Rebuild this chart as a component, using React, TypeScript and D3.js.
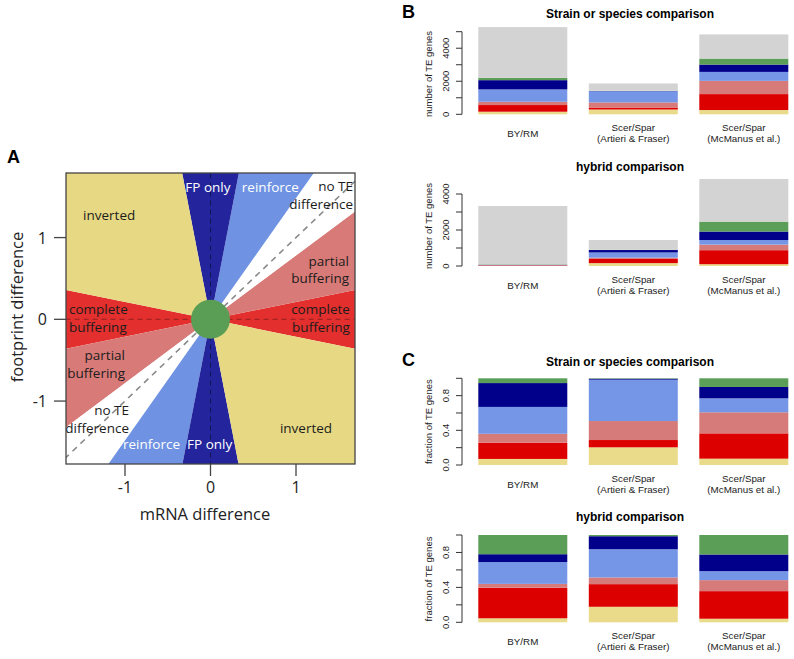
import React from "react";
import * as d3 from "d3";

// ---------- Panel A data ----------
const regionNames = ["complete buffering", "partial buffering", "no TE difference", "reinforce", "FP only", "inverted"];
const regionFromDeg = [-12, 12, 38, 56, 79.5, 100.5];
const regionToDeg = [12, 38, 56, 79.5, 100.5, 168];
const axisTicksA = [-1, 0, 1];
// label anchors in data units (mRNA, footprint)
const labelTexts = [
  ["inverted"], ["FP only"], ["reinforce"], ["no TE", "difference"], ["partial", "buffering"],
  ["complete", "buffering"], ["complete", "buffering"], ["partial", "buffering"], ["no TE", "difference"],
  ["reinforce"], ["FP only"], ["inverted"],
];
const labelX = [-1.49, -0.03, 0.7, 1.667, 1.62, 1.63, -1.655, -1.0, -0.953, -0.69, -0.01, 1.117];
const labelY = [1.28, 1.62, 1.62, 1.63, 0.714, 0.122, 0.122, -0.44, -1.11, -1.52, -1.53, -1.334];

// ---------- Panel B / C data ----------
const comparisons = ["BY/RM", "Scer/Spar\n(Artieri & Fraser)", "Scer/Spar\n(McManus et al.)"];
const categories = ["inverted", "complete buffering", "partial buffering", "reinforce", "FP only", "no difference", "no TE change"];
const strainCounts = [
  [157, 403, 200, 746, 560, 139, 3072],
  [290, 118, 310, 680, 16, 6, 447],
  [259, 964, 801, 542, 446, 361, 1464],
];
const hybridCounts = [
  [4, 32, 4, 22, 8, 20, 3243],
  [160, 233, 69, 291, 134, 13, 544],
  [101, 778, 311, 253, 471, 549, 2370],
];
const strainFractions = [
  [0.07, 0.187, 0.103, 0.31, 0.275, 0.055],
  [0.204, 0.084, 0.219, 0.477, 0.011, 0.005],
  [0.073, 0.292, 0.243, 0.161, 0.131, 0.1],
];
const hybridFractions = [
  [0.046, 0.35, 0.044, 0.25, 0.09, 0.22],
  [0.178, 0.259, 0.077, 0.323, 0.149, 0.014],
  [0.041, 0.316, 0.126, 0.103, 0.191, 0.223],
];
const countTicksStrain = [0, 1000, 2000, 3000, 4000, 5000];
const countTicksHybrid = [0, 1000, 2000, 3000, 4000];
const fractionTicks = [0, 0.2, 0.4, 0.6, 0.8, 1.0];

const regionColors = ["#e3302e", "#d87b78", "#ffffff", "#6f93e2", "#24259c", "#e7d983"];
const barColors = ["#e9db8a", "#dd0000", "#d67b79", "#7596e6", "#00008b", "#5b9e57", "#d3d3d3"];

const SANS = "'Liberation Sans', Arial, Helvetica, sans-serif";
const HUM = "'Open Sans', 'Noto Sans', sans-serif";

function PanelA() {
  const x = d3.scaleLinear().domain([-1.69, 1.69]).range([66, 355]);
  const y = d3.scaleLinear().domain([-1.77, 1.79]).range([464, 173]);
  const R = 10;
  const rad = (d: number) => (d * Math.PI) / 180;
  const sectorPath = (a0: number, a1: number) => {
    const pts: [number, number][] = [[x(0), y(0)]];
    const n = 8;
    for (let i = 0; i <= n; i++) {
      const a = rad(a0 + ((a1 - a0) * i) / n);
      pts.push([x(R * Math.cos(a)), y(R * Math.sin(a))]);
    }
    return d3.line()(pts) + "Z";
  };
  const white = (i: number) => i === 1 || i === 2 || i === 9 || i === 10;
  return (
    <g>
      <defs>
        <clipPath id="boxA">
          <rect x={66} y={173} width={289} height={291} />
        </clipPath>
      </defs>
      <g clipPath="url(#boxA)">
        {regionNames.map((nm, i) => (
          <g key={nm}>
            <path d={sectorPath(regionFromDeg[i], regionToDeg[i])} fill={regionColors[i]} />
            <path d={sectorPath(regionFromDeg[i] + 180, regionToDeg[i] + 180)} fill={regionColors[i]} />
          </g>
        ))}
        <line x1={x(-1.8)} y1={y(-1.8)} x2={x(1.8)} y2={y(1.8)} stroke="#8a8a8a" strokeWidth={1.6} strokeDasharray="6,5" />
        <line x1={x(-1.8)} y1={y(0)} x2={x(1.8)} y2={y(0)} stroke="#000" strokeOpacity={0.35} strokeWidth={1.1} strokeDasharray="5,4" />
        <line x1={x(0)} y1={y(-1.8)} x2={x(0)} y2={y(1.8)} stroke="#000" strokeOpacity={0.45} strokeWidth={1.1} strokeDasharray="5,4" />
        <circle cx={x(0)} cy={y(0)} r={19.5} fill="#5a9e55" />
        {labelTexts.map((lines, i) => {
          const anchor = i === 0 || i === 6 ? "start" : i === 3 || i === 4 || i === 5 || i === 7 || i === 8 ? "end" : "middle";
          return (
            <text key={i} x={x(labelX[i])} y={y(labelY[i])} textAnchor={anchor} fontFamily={HUM} fontSize={13.5}
              fill={white(i) ? "#ffffff" : "#1c1c1c"} dominantBaseline="central">
              {lines.map((l, j) => (
                <tspan key={j} x={x(labelX[i])} dy={j === 0 ? 0 : 17.5}>{l}</tspan>
              ))}
            </text>
          );
        })}
      </g>
      <rect x={66} y={173} width={289} height={291} fill="none" stroke="#444" strokeWidth={1.3} />
      {axisTicksA.map((t) => (
        <g key={"x" + t}>
          <line x1={x(t)} x2={x(t)} y1={464} y2={476} stroke="#444" strokeWidth={1.3} />
          <text x={x(t)} y={487} textAnchor="middle" dominantBaseline="central" fontFamily={HUM} fontSize={16} fill="#222">{t === -1 ? "-1" : String(t)}</text>
        </g>
      ))}
      {axisTicksA.map((t) => (
        <g key={"y" + t}>
          <line x1={54} x2={66} y1={y(t)} y2={y(t)} stroke="#444" strokeWidth={1.3} />
          <text x={47} y={y(t)} textAnchor="end" dominantBaseline="central" fontFamily={HUM} fontSize={16} fill="#222">{t === -1 ? "-1" : String(t)}</text>
        </g>
      ))}
      <text x={205} y={513} textAnchor="middle" dominantBaseline="central" fontFamily={HUM} fontSize={16.5} fill="#222">mRNA difference</text>
      <text transform={`translate(16,307) rotate(-90)`} textAnchor="middle" dominantBaseline="central" fontFamily={HUM} fontSize={16.5} fill="#222">footprint difference</text>
      <text x={7} y={162.5} fontFamily={SANS} fontWeight="bold" fontSize={18} fill="#000">A</text>
    </g>
  );
}

type Sub = {
  title: string; titleY: number; values: number[][]; keys: string[]; colors: string[];
  max: number; y0: number; y1: number; ticks: number[]; labelEvery: number; fmt: (v: number) => string;
  yTitle: string; yTitleY: number;
};

function BarPanel({ s }: { s: Sub }) {
  const x = d3.scaleBand<string>().domain(comparisons).range([478.3, 788.3]).paddingInner(0.1946).paddingOuter(0);
  const y = d3.scaleLinear().domain([0, s.max]).range([s.y0, s.y1]);
  const rows = comparisons.map((c, i) => {
    const o: any = { comp: c };
    s.keys.forEach((k, j) => (o[k] = s.values[i][j]));
    return o;
  });
  const series = d3.stack().keys(s.keys)(rows);
  return (
    <g>
      <text x={630} y={s.titleY} textAnchor="middle" dominantBaseline="central" fontFamily={SANS} fontWeight="bold" fontSize={12} fill="#000">{s.title}</text>
      {series.map((ser, j) => (
        <g key={s.keys[j]} fill={s.colors[j]}>
          {ser.map((d: any, i: number) => (
            <rect key={i} x={x(comparisons[i])} width={x.bandwidth()} y={y(d[1])} height={Math.max(0, y(d[0]) - y(d[1]))} />
          ))}
        </g>
      ))}
      <line x1={462} x2={462} y1={y(s.ticks[0])} y2={y(s.ticks[s.ticks.length - 1])} stroke="#333" strokeWidth={1} />
      {s.ticks.map((t, i) => (
        <g key={i}>
          <line x1={456} x2={462} y1={y(t)} y2={y(t)} stroke="#333" strokeWidth={1} />
          {i % s.labelEvery === 0 && (
            <text transform={`translate(445,${y(t)}) rotate(-90)`} textAnchor="middle" dominantBaseline="central" fontFamily={SANS} fontSize={9.5} fill="#222">{s.fmt(t)}</text>
          )}
        </g>
      ))}
      <text transform={`translate(428,${s.yTitleY}) rotate(-90)`} textAnchor="middle" dominantBaseline="central" fontFamily={SANS} fontSize={9.5} fill="#222">{s.yTitle}</text>
      {comparisons.map((c) => {
        const lines = c.split("\n");
        const cx = (x(c) as number) + x.bandwidth() / 2;
        const cy = s.y0 + 18.5;
        return (
          <text key={c} x={cx} textAnchor="middle" dominantBaseline="central" fontFamily={SANS} fontSize={9.8} fill="#222">
            {lines.map((l, j) => (
              <tspan key={j} x={cx} y={cy + (j - (lines.length - 1) / 2) * 10.7}>{l}</tspan>
            ))}
          </text>
        );
      })}
    </g>
  );
}

export default function App() {
  const fracKeys = categories.slice(0, 6);
  const fracColors = barColors.slice(0, 6);
  const subs: Sub[] = [
    { title: "Strain or species comparison", titleY: 14, values: strainCounts, keys: categories, colors: barColors, max: 5000, y0: 114.3, y1: 31.7, ticks: countTicksStrain, labelEvery: 2, fmt: (v) => String(v), yTitle: "number of TE genes", yTitleY: 74 },
    { title: "hybrid comparison", titleY: 166.7, values: hybridCounts, keys: categories, colors: barColors, max: 4000, y0: 266, y1: 194, ticks: countTicksHybrid, labelEvery: 2, fmt: (v) => String(v), yTitle: "number of TE genes", yTitleY: 226 },
    { title: "Strain or species comparison", titleY: 362.3, values: strainFractions, keys: fracKeys, colors: fracColors, max: 1, y0: 465, y1: 378.3, ticks: fractionTicks, labelEvery: 2, fmt: (v) => v.toFixed(1), yTitle: "fraction of TE genes", yTitleY: 421.7 },
    { title: "hybrid comparison", titleY: 516.7, values: hybridFractions, keys: fracKeys, colors: fracColors, max: 1, y0: 622.3, y1: 535, ticks: fractionTicks, labelEvery: 2, fmt: (v) => v.toFixed(1), yTitle: "fraction of TE genes", yTitleY: 579 },
  ];
  return (
    <svg width={794} height={659} style={{ position: "absolute", left: 0, top: 0, background: "#fff" }}>
      <rect x={0} y={0} width={794} height={659} fill="#fff" />
      <PanelA />
      {subs.map((s, i) => <BarPanel key={i} s={s} />)}
      <text x={402} y={18.3} fontFamily={SANS} fontWeight="bold" fontSize={18} fill="#000">B</text>
      <text x={402} y={365.7} fontFamily={SANS} fontWeight="bold" fontSize={18} fill="#000">C</text>
    </svg>
  );
}
